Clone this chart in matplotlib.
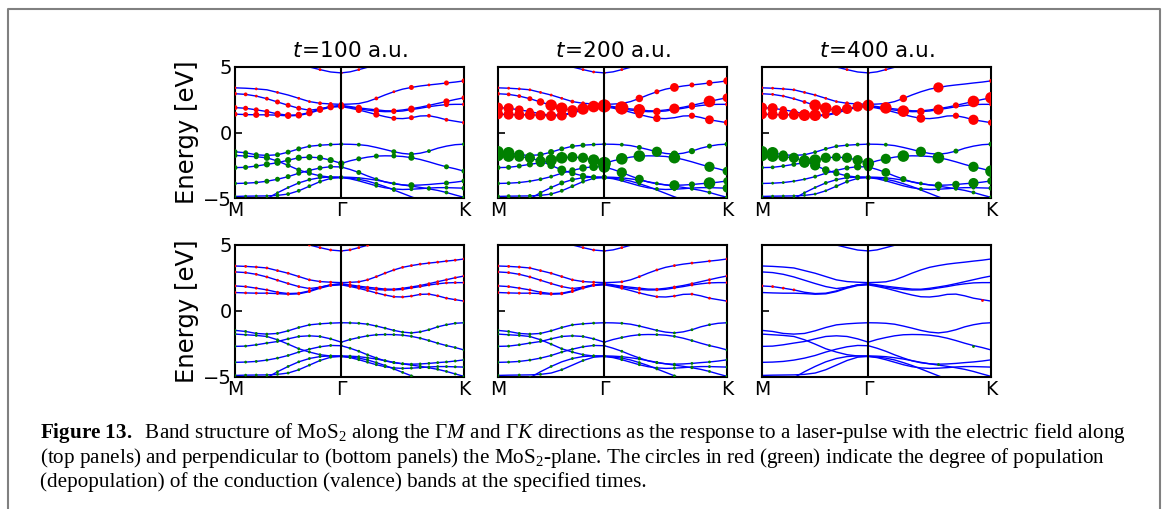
import numpy as np
import matplotlib.pyplot as plt
from matplotlib.lines import Line2D

plt.rcParams['mathtext.rm'] = 'Liberation Serif'
plt.rcParams['mathtext.it'] = 'Liberation Serif:italic'
plt.rcParams['mathtext.bf'] = 'Liberation Serif:bold'

# k-path M -> Gamma -> K (lengths in units of 2pi/a)
len_mg = 1 / np.sqrt(3)
len_gk = 2 / 3
n_mg, n_gk = 10, 14
k = np.concatenate([np.linspace(0, len_mg, n_mg + 1),
                    len_mg + np.linspace(0, len_gk, n_gk + 1)[1:]])
k_ticks = [0, len_mg, len_mg + len_gk]
k_labels = ['M', 'Γ', 'K']

# band energies [eV]: 11 points M->Gamma, then 14 points Gamma->K
c4 = [6.5, 6.4, 6.2, 6.0, 5.8, 5.6, 5.35, 5.0, 4.8, 4.62, 4.55,
      4.63, 4.80, 4.98, 5.20, 5.45, 5.72, 6.0, 6.2, 6.3, 6.45, 6.55, 6.65, 6.7, 6.7]
c3 = [3.41, 3.38, 3.33, 3.26, 3.06, 2.86, 2.61, 2.36, 2.23, 2.18, 2.15,
      2.17, 2.21, 2.36, 2.60, 2.87, 3.11, 3.31, 3.44, 3.55, 3.63, 3.70, 3.78, 3.85, 3.94]
c2 = [2.96, 2.91, 2.78, 2.58, 2.33, 2.08, 1.85, 1.70, 1.80, 1.98, 2.07,
      1.98, 1.88, 1.80, 1.73, 1.66, 1.65, 1.72, 1.82, 1.93, 2.07, 2.22, 2.37, 2.52, 2.65]
c1b = [1.90, 1.85, 1.73, 1.60, 1.42, 1.32, 1.35, 1.52, 1.80, 1.98, 2.03,
       1.93, 1.80, 1.71, 1.63, 1.59, 1.60, 1.64, 1.75, 1.85, 1.97, 2.06, 2.13, 2.15, 2.15]
c1 = [1.40, 1.37, 1.35, 1.35, 1.32, 1.27, 1.30, 1.47, 1.73, 1.93, 1.98,
      1.86, 1.72, 1.55, 1.37, 1.21, 1.08, 1.06, 1.13, 1.26, 1.28, 1.15, 0.97, 0.86, 0.75]
v1 = [-1.47, -1.55, -1.70, -1.75, -1.70, -1.50, -1.25, -1.05, -0.97, -0.92, -0.89,
      -0.90, -0.93, -1.00, -1.14, -1.30, -1.47, -1.60, -1.66, -1.58, -1.42, -1.20, -1.04, -0.93, -0.89]
v3 = [-2.68, -2.66, -2.56, -2.43, -2.31, -2.11, -1.93, -1.88, -1.93, -2.11, -2.36,
      -2.16, -2.01, -1.88, -1.80, -1.78, -1.79, -1.83, -1.92, -2.06, -2.24, -2.44, -2.62, -2.77, -2.95]
v2 = [-1.75, -1.80, -1.85, -1.93, -2.18, -2.51, -2.86, -3.11, -3.31, -3.41, -3.44,
      -3.49, -3.57, -3.71, -3.91, -4.13, -4.39, -4.65, -4.91, -5.15, -5.38, -5.58, -5.73, -5.86, -5.95]
v4 = [-3.89, -3.87, -3.82, -3.72, -3.57, -3.37, -3.11, -2.89, -2.71, -2.61, -2.63,
      -2.82, -3.05, -3.32, -3.56, -3.78, -3.92, -4.00, -4.03, -4.01, -3.97, -3.91, -3.86, -3.79, -3.70]
v5 = [-4.88, -4.86, -4.85, -4.84, -4.80, -4.70, -4.45, -4.10, -3.75, -3.50, -3.44,
      -3.53, -3.69, -3.88, -4.07, -4.22, -4.31, -4.35, -4.33, -4.29, -4.24, -4.21, -4.21, -4.23, -4.25]
v6 = [-6.2, -5.9, -5.5, -5.05, -4.6, -4.2, -3.85, -3.6, -3.45, -3.40, -3.40,
      -3.42, -3.46, -3.54, -3.64, -3.76, -3.89, -4.00, -4.10, -4.19, -4.30, -4.42, -4.58, -4.77, -4.95]

bands = [c4, c3, c2, c1b, c1, v1, v3, v2, v4, v5, v6]
n_cond = 5  # first five are conduction bands

times = [100, 200, 400]

# population size codes (0 = none ... 9 = largest), same band order as `bands`
pop_top_100 = ["00000000101 01000000000000",
               "10101011223 00020103010303",
               "22123333333 04030304020403",
               "33334444444 04030304020302",
               "33433444444 04040303020202",
               "33333332222 02000303020002",
               "33344444444 03030304000303",
               "33344333322 02020200000000",
               "22233333333 03020004000303",
               "11112222222 00020202020203",
               "00011122222 00000202020202"]
pop_top_200 = ["00000000111 01000000000000",
               "11111112223 00050306030405",
               "22235887886 09080007040806",
               "77654444569 00000500040002",
               "77777776556 06050500040604",
               "88744433322 02030705040303",
               "33346887789 08080008000706",
               "88777564433 03020000000000",
               "22112234568 07060007040805",
               "22122222222 00000202020206",
               "00012233333 00020202020202"]
pop_top_400 = ["00000000101 01000000000000",
               "11111111222 00050007000002",
               "11112887778 08000000040808",
               "77546854445 00080507000002",
               "77778643334 00000600040704",
               "88632222222 02000700030003",
               "22237876778 07080008000708",
               "88778754433 03000000000000",
               "11111222356 06040005050705",
               "11111112222 00000202020203",
               "00011122222 00000202020202"]
pop_bot_100 = ["11111111111 11111111111111"] * 11
pop_bot_200 = ["00000000111 01010000000000",
               "11111111111 01010101010101",
               "11111111111 01010101010101",
               "11111111111 01010101010101",
               "11111111111 01010101010101",
               "11111111111 01010101010101",
               "11111111111 01010101010101",
               "11111111111 01010101010101",
               "11111111111 01010101010101",
               "10101010101 01010101010101",
               "00010101011 01010101010101"]
pop_bot_400 = ["00000000000 00000000000000",
               "00000000000 00000000000000",
               "00000000000 00000000000000",
               "11110000000 00000000000000",
               "00000000000 00000000000010",
               "00000000000 00000000000000",
               "00000000000 00000000000100",
               "00000000000 00000000000000",
               "00000000000 00000001000000",
               "00000000000 00000000000000",
               "00000000000 00000000000000"]
pops = [[pop_top_100, pop_top_200, pop_top_400],
        [pop_bot_100, pop_bot_200, pop_bot_400]]

marker_px = [0, 2.8, 3.8, 5.0, 6.2, 7.5, 8.8, 10.2, 11.6, 13.2]

fig = plt.figure(figsize=(11.65, 5.09), dpi=100)
W, H = 1165, 509
lefts = [235, 498, 762]
rows = [(67, 198), (245, 377)]

for r, (ytop, ybot) in enumerate(rows):
    for c, x0 in enumerate(lefts):
        ax = fig.add_axes([x0 / W, 1 - ybot / H, 229 / W, (ybot - ytop) / H])
        for band in bands:
            ax.plot(k, band, color='blue', lw=1.0, zorder=2)
        for b, (band, code) in enumerate(zip(bands, pops[r][c])):
            d = np.array([int(ch) for ch in code.replace(' ', '')])
            m = d > 0
            size_pt = np.array(marker_px)[d[m]] * 0.72
            ax.scatter(k[m], np.array(band)[m], s=size_pt ** 2,
                       color='red' if b < n_cond else 'green', lw=0, zorder=3)
        ax.axvline(len_mg, color='black', lw=1.5, zorder=4)
        ax.set_xlim(k_ticks[0], k_ticks[-1])
        ax.set_ylim(-5, 5)
        ax.set_xticks(k_ticks)
        ax.set_xticklabels(k_labels, fontsize=13.5)
        ax.tick_params(axis='x', length=0, pad=2)
        ax.set_yticks([-5, 0, 5])
        ax.tick_params(axis='y', direction='in', length=5, width=1.2, pad=2, labelsize=14)
        for s in ax.spines.values():
            s.set_linewidth(1.5)
        if c == 0:
            ax.set_ylabel('Energy [eV]', fontsize=17.5, labelpad=3)
        else:
            ax.set_yticklabels([])
        if r == 0:
            ax.set_title(r'$t\!=\!%d$ a.u.' % times[c], fontsize=15.5, pad=7)

# frame around the figure
x_l, x_r, y_t = 7.5 / W, 1160 / W, 1 - 9 / H
fig.add_artist(Line2D([x_l, x_l, x_r, x_r], [-0.05, y_t, y_t, -0.05],
                      transform=fig.transFigure, color='#808080', lw=1.5))

caption = [r"$\mathbf{Figure\ 13.}$  Band structure of MoS$_2$ along the Γ$M$ and Γ$K$ directions as the response to a laser-pulse with the electric field along",
           r"(top panels) and perpendicular to (bottom panels) the MoS$_2$-plane. The circles in red (green) indicate the degree of population",
           r"(depopulation) of the conduction (valence) bands at the specified times."]
for i, line in enumerate(caption):
    fig.text(40 / W, 1 - (438 + 24.5 * i) / H, line, family='Liberation Serif',
             math_fontfamily='custom', fontsize=15.2, va='baseline', ha='left')

fig.savefig('out.png', dpi=100)
